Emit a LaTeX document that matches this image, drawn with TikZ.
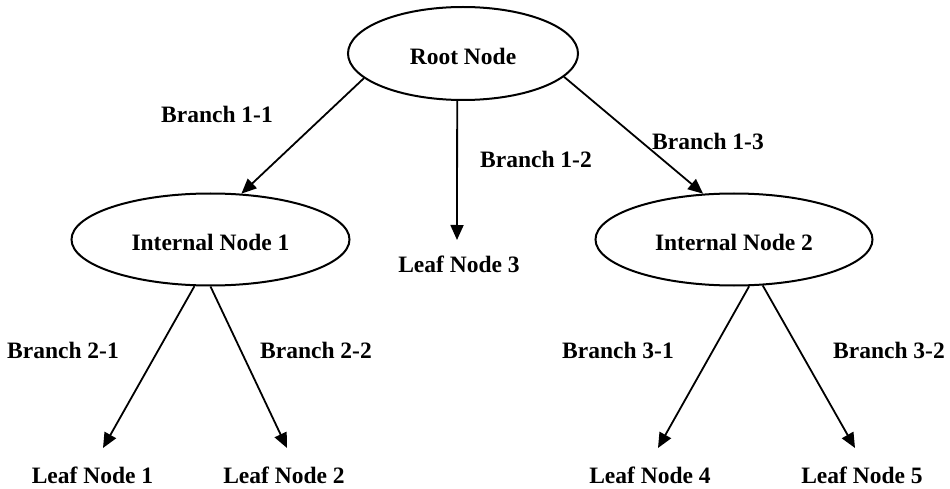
\documentclass[tikz,border=0pt]{standalone}
\usepackage{fontspec}
\setmainfont{Liberation Serif}
\usetikzlibrary{arrows.meta,shapes.geometric}
\begin{document}
\begin{tikzpicture}[x=1pt,y=-1pt,
  every node/.style={font=\fontsize{23.5}{28}\bfseries\selectfont, inner sep=0pt},
  oval/.style={ellipse, draw, line width=2pt, inner sep=0pt},
  lbl/.style={anchor=base},
  conn/.style={line width=1.8pt, -{Triangle[length=15pt,width=13pt]}}]
\useasboundingbox (0,0) rectangle (950,489);
% ellipse nodes
\node[oval, minimum width=230pt, minimum height=93pt, text height=23pt, text depth=0pt] (root) at (463,53.5) {Root Node};
\node[oval, minimum width=278pt, minimum height=92pt, text height=21pt, text depth=0pt] (in1) at (210.5,239.5) {Internal Node 1};
\node[oval, minimum width=277pt, minimum height=92pt, text height=21pt, text depth=0pt] (in2) at (734,239.5) {Internal Node 2};
% leaves
\node[lbl] (l3) at (459,272) {Leaf Node 3};
\node[lbl] (l1) at (92.5,483) {Leaf Node 1};
\node[lbl] (l2) at (284,483) {Leaf Node 2};
\node[lbl] (l4) at (650,483) {Leaf Node 4};
\node[lbl] (l5) at (862,483) {Leaf Node 5};
% branch labels
\node[lbl] (b11) at (217,123) {Branch 1-1};
\node[lbl] (b12) at (536,168) {Branch 1-2};
\node[lbl] (b13) at (708,150) {Branch 1-3};
\node[lbl] (b21) at (63,358) {Branch 2-1};
\node[lbl] (b22) at (316,358) {Branch 2-2};
\node[lbl] (b31) at (618,358) {Branch 3-1};
\node[lbl] (b32) at (889,358) {Branch 3-2};
% arrow tips
\coordinate (t3) at (457,240);
\coordinate (t1) at (103,448);
\coordinate (t2) at (287,448);
\coordinate (t4) at (658,448);
\coordinate (t5) at (855,448);
% connectors
\draw[conn] (root.194.6) -- (in1.56);
\draw[conn] (root.263) -- (t3);
\draw[conn] (root.347) -- (in2.124);
\draw[conn] (in1.251.6) -- (t1);
\draw[conn] (in1.270) -- (t2);
\draw[conn] (in2.288) -- (t4);
\draw[conn] (in2.302.8) -- (t5);
\end{tikzpicture}
\end{document}
